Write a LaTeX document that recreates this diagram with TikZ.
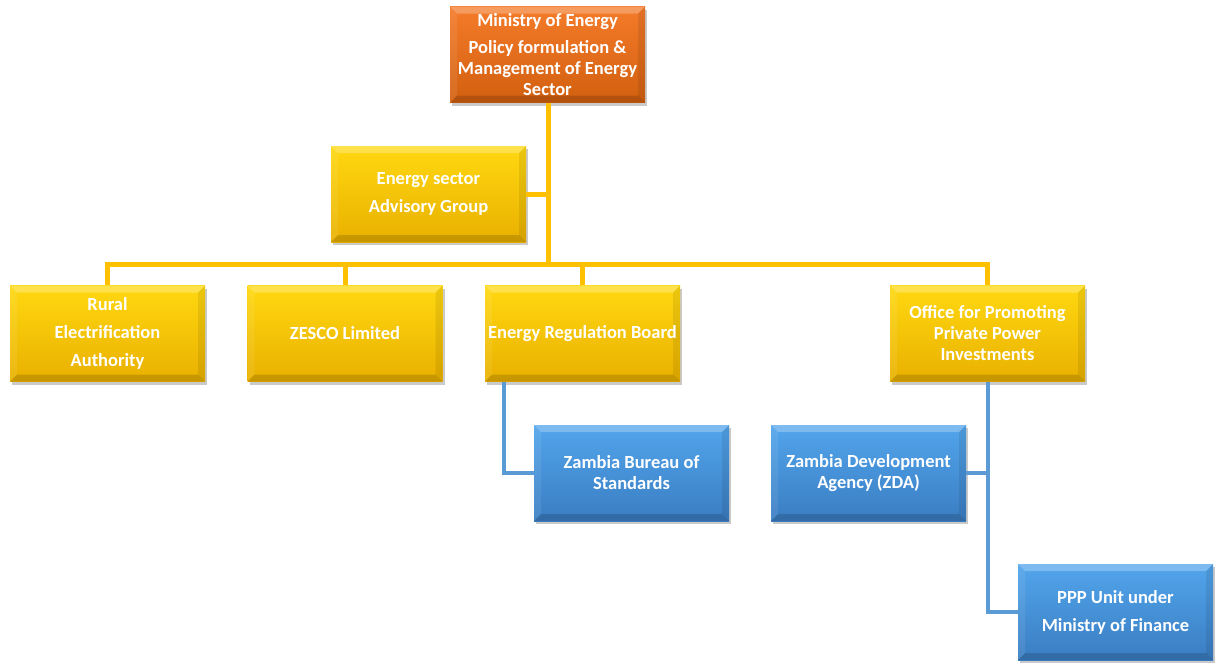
\documentclass[tikz,border=0pt]{standalone}
\usepackage{fontspec}
\setmainfont{Carlito}
\usetikzlibrary{shadows,calc}
\definecolor{orgtop}{HTML}{F47B2A}
\definecolor{orgbot}{HTML}{D2600F}
\definecolor{yeltop}{HTML}{FFD810}
\definecolor{yelbot}{HTML}{E9B000}
\definecolor{blutop}{HTML}{52A5EC}
\definecolor{blubot}{HTML}{3A7DC2}
\definecolor{yelline}{HTML}{FFC000}
\definecolor{bluline}{HTML}{5B9BD5}
\tikzset{
  x=1pt, y=-1pt,
  bevel/.style={path picture={
    \fill[white,opacity=0.25] (path picture bounding box.north west) -- (path picture bounding box.north east)
      -- ([shift={(-7pt,-7pt)}]path picture bounding box.north east) -- ([shift={(7pt,-7pt)}]path picture bounding box.north west) -- cycle;
    \fill[white,opacity=0.08] (path picture bounding box.north west) -- (path picture bounding box.south west)
      -- ([shift={(7pt,7pt)}]path picture bounding box.south west) -- ([shift={(7pt,-7pt)}]path picture bounding box.north west) -- cycle;
    \fill[black,opacity=0.15] (path picture bounding box.south west) -- (path picture bounding box.south east)
      -- ([shift={(-7pt,7pt)}]path picture bounding box.south east) -- ([shift={(7pt,7pt)}]path picture bounding box.south west) -- cycle;
    \fill[black,opacity=0.08] (path picture bounding box.north east) -- (path picture bounding box.south east)
      -- ([shift={(-7pt,7pt)}]path picture bounding box.south east) -- ([shift={(-7pt,-7pt)}]path picture bounding box.north east) -- cycle;
  }},
  box/.style={minimum width=195pt, minimum height=96pt, inner sep=0pt, align=center,
    text=white, font=\fontsize{18.5}{21}\selectfont\bfseries,
    drop shadow={shadow xshift=2pt, shadow yshift=-3pt, opacity=0.35, fill=black!60},
    bevel},
  obox/.style={box, top color=orgtop, bottom color=orgbot},
  ybox/.style={box, top color=yeltop, bottom color=yelbot},
  bbox/.style={box, top color=blutop, bottom color=blubot},
  yline/.style={draw=yelline, line width=5pt},
  bline/.style={draw=bluline, line width=4pt},
}
\begin{document}
\begin{tikzpicture}
\useasboundingbox (0,0) rectangle (1215,662);
\coordinate (trunkbot) at (548,264);
\coordinate (busL) at (107.5,264);
\coordinate (busR) at (987.5,264);
\coordinate (advj) at (548,194);
\coordinate (zbsj) at (504,473);
\coordinate (zdaj) at (987.5,473);
\coordinate (pppj) at (987.5,612);

\node[obox] (min) at (547.5,54.5) {Ministry of Energy\\[6pt]Policy formulation \&\\Management of Energy\\Sector};
\node[ybox] (adv) at (428.5,194) {Energy sector\\[7pt]Advisory Group};
\node[ybox] (rea) at (107.5,333.5) {Rural\\[7pt]Electrification\\[7pt]Authority};
\node[ybox] (zesco) at (345,333.5) {ZESCO Limited};
\node[ybox] (erb) at (582.5,333.5) {Energy Regulation Board};
\node[ybox] (opp) at (987.5,333.5) {Office for Promoting\\Private Power\\Investments};
\node[bbox] (zbs) at (631.5,473) {Zambia Bureau of\\Standards};
\node[bbox] (zda) at (868.5,473) {Zambia Development\\Agency (ZDA)};
\node[bbox] (ppp) at (1115.5,612) {PPP Unit under\\[7pt]Ministry of Finance};

\draw[yline] (min.south -| trunkbot) -- (trunkbot);
\draw[yline] (adv.east) -- (advj);
\draw[yline, line cap=rect] (busL) -- (busR);
\draw[yline] (busL) -- (rea.north);
\draw[yline] (zesco.north |- busL) -- (zesco.north);
\draw[yline] (erb.north |- busL) -- (erb.north);
\draw[yline] (busR) -- (opp.north);
\draw[bline] (erb.south -| zbsj) -- (zbsj) -- (zbs.west |- zbsj);
\draw[bline] (opp.south) -- (pppj) -- (ppp.west |- pppj);
\draw[bline] (zda.east |- zdaj) -- (zdaj);
\end{tikzpicture}
\end{document}
